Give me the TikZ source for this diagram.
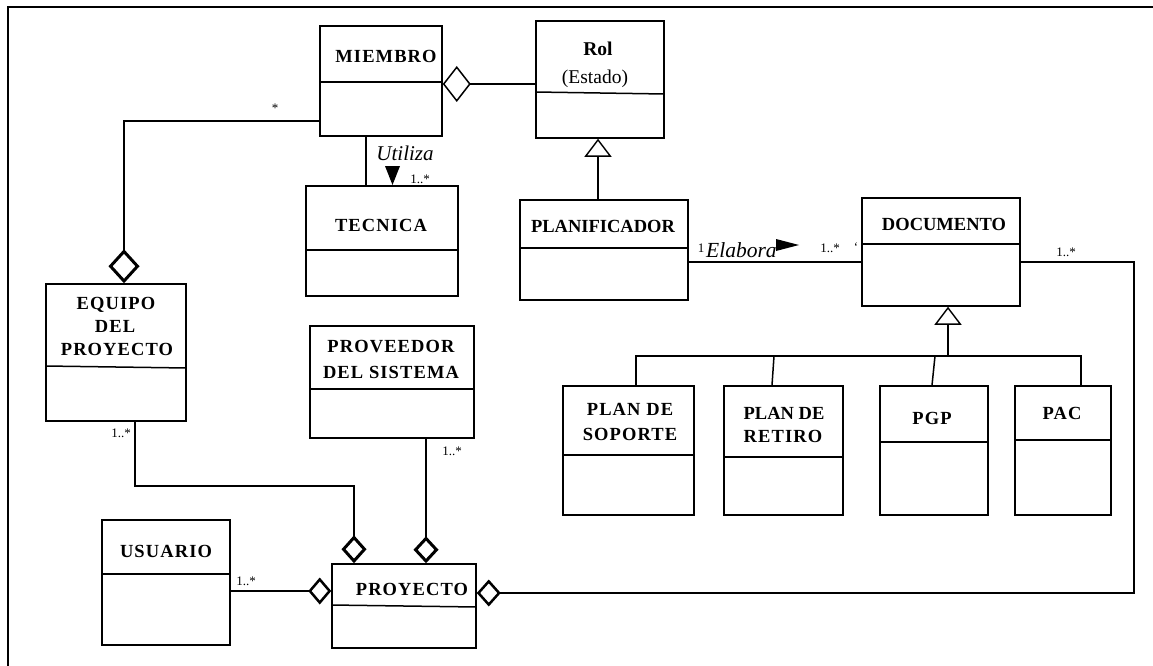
\documentclass[tikz,border=0pt]{standalone}
\usepackage{fontspec}
\setmainfont{Liberation Serif}
\newfontfamily\spc[LetterSpace=6]{Liberation Serif}
\usetikzlibrary{arrows.meta}
\begin{document}
\begin{tikzpicture}[x=1pt,y=-1pt,
  cls/.style={draw, line width=1.5pt, inner sep=0pt, rectangle},
  ttl/.style={inner sep=0pt, anchor=base, font=\bfseries\fontsize{18.5}{22}\selectfont},
  sttl/.style={inner sep=0pt, anchor=base, font=\spc\bfseries\fontsize{18.5}{22}\selectfont},
  mult/.style={inner sep=0pt, font=\fontsize{13}{15}\selectfont},
  role/.style={inner sep=0pt, anchor=base, font=\itshape\fontsize{21}{24}\selectfont},
  conn/.style={line width=1.5pt},
  div/.style={line width=1.5pt},
  aggr/.style n args={3}{conn, -{Diamond[open, length=#1, width=#2, line width=#3]}},
  gen/.style={conn, -{Triangle[open, length=18pt, width=27pt, line width=1.4pt]}},
  frame/.style={line width=1.5pt}
]
\useasboundingbox (0,0) rectangle (1153,666);
\draw[frame] (8,666) -- (8,7) -- (1153,7);

% class boxes
\node[cls, minimum width=122pt, minimum height=110pt] (MIEMBRO) at (381,81) {};
\node[cls, minimum width=128pt, minimum height=117pt] (Rol) at (600,79.5) {};
\node[cls, minimum width=152pt, minimum height=110pt] (TECNICA) at (382,241) {};
\node[cls, minimum width=168pt, minimum height=100pt] (PLANIFICADOR) at (604,250) {};
\node[cls, minimum width=158pt, minimum height=108pt] (DOCUMENTO) at (941,252) {};
\node[cls, minimum width=140pt, minimum height=137pt] (EQUIPO) at (116,352.5) {};
\node[cls, minimum width=164pt, minimum height=112pt] (PROVEEDOR) at (392,382) {};
\node[cls, minimum width=128pt, minimum height=125pt] (USUARIO) at (166,582.5) {};
\node[cls, minimum width=144pt, minimum height=84pt] (PROYECTO) at (404,606) {};
\node[cls, minimum width=131pt, minimum height=129pt] (SOPORTE) at (628.5,450.5) {};
\node[cls, minimum width=119pt, minimum height=129pt] (RETIRO) at (783.5,450.5) {};
\node[cls, minimum width=108pt, minimum height=129pt] (PGP) at (934,450.5) {};
\node[cls, minimum width=96pt, minimum height=129pt] (PAC) at (1063,450.5) {};

% dividers
\draw[div] (MIEMBRO.west |- 0,82) -- (MIEMBRO.east |- 0,82);
\draw[div] (Rol.west |- 0,92) -- (Rol.east |- 0,94);
\draw[div] (TECNICA.west |- 0,250) -- (TECNICA.east |- 0,250);
\draw[div] (PLANIFICADOR.west |- 0,248) -- (PLANIFICADOR.east |- 0,248);
\draw[div] (DOCUMENTO.west |- 0,244) -- (DOCUMENTO.east |- 0,244);
\draw[div] (EQUIPO.west |- 0,366) -- (EQUIPO.east |- 0,368);
\draw[div] (PROVEEDOR.west |- 0,389) -- (PROVEEDOR.east |- 0,389);
\draw[div] (USUARIO.west |- 0,574) -- (USUARIO.east |- 0,574);
\draw[div] (PROYECTO.west |- 0,605) -- (PROYECTO.east |- 0,607);
\draw[div] (SOPORTE.west |- 0,455) -- (SOPORTE.east |- 0,455);
\draw[div] (RETIRO.west |- 0,457) -- (RETIRO.east |- 0,457);
\draw[div] (PGP.west |- 0,442) -- (PGP.east |- 0,442);
\draw[div] (PAC.west |- 0,440) -- (PAC.east |- 0,440);

% titles
\node[sttl] (tMIEMBRO) at (386,63) {MIEMBRO};
\node[inner sep=0pt, anchor=base, font=\bfseries\fontsize{19.5}{22}\selectfont] (tRol) at (598,56) {Rol};
\node[inner sep=0pt, anchor=base, font=\fontsize{19.5}{22}\selectfont] (tEstado) at (595,84) {(Estado)};
\node[sttl] (tTECNICA) at (381,231) {TECNICA};
\node[ttl] (tPLAN) at (603,232) {PLANIFICADOR};
\node[ttl] (tDOC) at (944,230) {DOCUMENTO};
\node[sttl] (tEQ1) at (116,309) {EQUIPO};
\node[sttl] (tEQ2) at (115,332) {DEL};
\node[sttl] (tEQ3) at (117,355) {PROYECTO};
\node[sttl] (tPR1) at (391,352) {PROVEEDOR};
\node[sttl] (tPR2) at (391,378) {DEL SISTEMA};
\node[sttl] (tUSU) at (166,557) {USUARIO};
\node[sttl] (tPROY) at (412,595) {PROYECTO};
\node[sttl] (tSO1) at (630,415) {PLAN DE};
\node[sttl] (tSO2) at (630,440) {SOPORTE};
\node[ttl] (tRE1) at (784,419) {PLAN DE};
\node[sttl] (tRE2) at (783,442) {RETIRO};
\node[sttl] (tPGP) at (932,424) {PGP};
\node[sttl] (tPAC) at (1062,419) {PAC};

% connectors
\coordinate (eqbend) at (124,121);
\draw[aggr={34pt}{31pt}{3pt}] (MIEMBRO.west |- eqbend) -- (eqbend) -- (EQUIPO.north -| eqbend);
\draw[aggr={28pt}{36pt}{1.5pt}] (Rol.west |- 0,84) -- (MIEMBRO.east |- 0,84);
\draw[conn] (MIEMBRO.south -| 366,0) -- (TECNICA.north -| 366,0);
\draw[gen] (PLANIFICADOR.north -| 598,0) -- (Rol.south -| 598,0);
\draw[conn] (PLANIFICADOR.east |- 0,262) -- (DOCUMENTO.west |- 0,262);
\coordinate (docR) at (1134,262);
\coordinate (docB) at (1134,593);
\draw[aggr={24pt}{27pt}{2.5pt}] (DOCUMENTO.east |- docR) -- (docR) -- (docB) -- (PROYECTO.east |- docB);
% generalization of DOCUMENTO
\coordinate (bar) at (948,356);
\coordinate (barL) at (636,356);
\coordinate (barR) at (1081,356);
\draw[gen] (bar) -- (DOCUMENTO.south -| bar);
\draw[conn] (SOPORTE.north -| barL) -- (barL) -- (barR) -- (PAC.north -| barR);
\draw[conn] (774,356) -- (RETIRO.north -| 772,0);
\draw[conn] (935,356) -- (PGP.north -| 932,0);
% to PROYECTO
\coordinate (eqB) at (135,486);
\coordinate (eqB2) at (354,486);
\draw[aggr={28pt}{25pt}{3pt}] (EQUIPO.south -| eqB) -- (eqB) -- (eqB2) -- (PROYECTO.north -| eqB2);
\draw[aggr={27pt}{25pt}{3pt}] (PROVEEDOR.south -| 426,0) -- (PROYECTO.north -| 426,0);
\draw[aggr={23pt}{27pt}{2.5pt}] (USUARIO.east |- 0,591) -- (PROYECTO.west |- 0,591);

% association labels
\node[role] (lUtiliza) at (405,160) {Utiliza};
\fill (385,166) -- (400,166) -- (392.5,185) -- cycle;
\node[role, anchor=base west, font=\itshape\fontsize{21.5}{24}\selectfont] (lElabora) at (706,257) {Elabora};
\fill (776,239) -- (799,245) -- (776,251) -- cycle;

% multiplicities
\node[mult] (m1) at (275,108) {*};
\node[mult] (m2) at (420,179) {1..*};
\node[mult] (m3) at (701,248) {1};
\node[mult] (m4) at (830,248) {1..*};
\node[mult] (m5) at (856,247) {`};
\node[mult] (m6) at (1066,252) {1..*};
\node[mult] (m7) at (121,433) {1..*};
\node[mult] (m8) at (452,451) {1..*};
\node[mult] (m9) at (246,581) {1..*};
\end{tikzpicture}
\end{document}
